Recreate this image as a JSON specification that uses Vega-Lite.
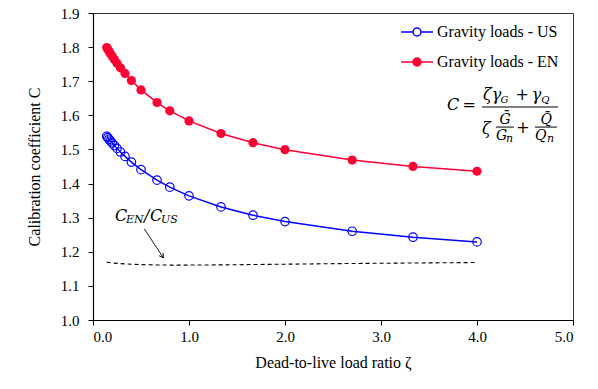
{
  "$schema": "https://vega.github.io/schema/vega-lite/v6.json",
  "width": 480,
  "height": 307,
  "autosize": "none",
  "padding": {"left": 93, "top": 13, "right": 25, "bottom": 69},
  "background": "white",
  "data": {"values": [{}]},
  "config": {
    "view": {"stroke": "#333333", "strokeWidth": 1},
    "axis": {
      "domainColor": "black", "domainWidth": 1.2, "tickColor": "black", "tickWidth": 1, "tickSize": 5,
      "labelColor": "black", "titleColor": "black", "labelFont": "Liberation Serif", "titleFont": "Liberation Serif",
      "labelFontSize": 15, "titleFontSize": 16, "titleFontWeight": "normal", "grid": false, "labelOverlap": false
    },
    "axisY": {"labelOverlap": false},
    "axisQuantitative": {"labelOverlap": false}
  },
  "datasets": {
    "curves": [
      {"zeta": 0.1429, "series": "Gravity loads - US", "C": 1.5385},
      {"zeta": 0.1538, "series": "Gravity loads - US", "C": 1.5345},
      {"zeta": 0.1667, "series": "Gravity loads - US", "C": 1.5300},
      {"zeta": 0.1818, "series": "Gravity loads - US", "C": 1.5248},
      {"zeta": 0.2, "series": "Gravity loads - US", "C": 1.5188},
      {"zeta": 0.2222, "series": "Gravity loads - US", "C": 1.5116},
      {"zeta": 0.25, "series": "Gravity loads - US", "C": 1.5030},
      {"zeta": 0.2857, "series": "Gravity loads - US", "C": 1.4926},
      {"zeta": 0.3333, "series": "Gravity loads - US", "C": 1.4796},
      {"zeta": 0.4, "series": "Gravity loads - US", "C": 1.4629},
      {"zeta": 0.5, "series": "Gravity loads - US", "C": 1.4407},
      {"zeta": 0.6667, "series": "Gravity loads - US", "C": 1.4099},
      {"zeta": 0.8, "series": "Gravity loads - US", "C": 1.3894},
      {"zeta": 1.0, "series": "Gravity loads - US", "C": 1.3640},
      {"zeta": 1.3333, "series": "Gravity loads - US", "C": 1.3315},
      {"zeta": 1.6667, "series": "Gravity loads - US", "C": 1.3072},
      {"zeta": 2.0, "series": "Gravity loads - US", "C": 1.2885},
      {"zeta": 2.7, "series": "Gravity loads - US", "C": 1.2602},
      {"zeta": 3.3333, "series": "Gravity loads - US", "C": 1.2427},
      {"zeta": 4.0, "series": "Gravity loads - US", "C": 1.2290},
      {"zeta": 0.1429, "series": "Gravity loads - EN", "C": 1.7988},
      {"zeta": 0.1538, "series": "Gravity loads - EN", "C": 1.7936},
      {"zeta": 0.1667, "series": "Gravity loads - EN", "C": 1.7876},
      {"zeta": 0.1818, "series": "Gravity loads - EN", "C": 1.7808},
      {"zeta": 0.2, "series": "Gravity loads - EN", "C": 1.7729},
      {"zeta": 0.2222, "series": "Gravity loads - EN", "C": 1.7637},
      {"zeta": 0.25, "series": "Gravity loads - EN", "C": 1.7526},
      {"zeta": 0.2857, "series": "Gravity loads - EN", "C": 1.7393},
      {"zeta": 0.3333, "series": "Gravity loads - EN", "C": 1.7228},
      {"zeta": 0.4, "series": "Gravity loads - EN", "C": 1.7019},
      {"zeta": 0.5, "series": "Gravity loads - EN", "C": 1.6746},
      {"zeta": 0.6667, "series": "Gravity loads - EN", "C": 1.6373},
      {"zeta": 0.8, "series": "Gravity loads - EN", "C": 1.6131},
      {"zeta": 1.0, "series": "Gravity loads - EN", "C": 1.5836},
      {"zeta": 1.3333, "series": "Gravity loads - EN", "C": 1.5467},
      {"zeta": 1.6667, "series": "Gravity loads - EN", "C": 1.5198},
      {"zeta": 2.0, "series": "Gravity loads - EN", "C": 1.4993},
      {"zeta": 2.7, "series": "Gravity loads - EN", "C": 1.4690},
      {"zeta": 3.3333, "series": "Gravity loads - EN", "C": 1.4503},
      {"zeta": 4.0, "series": "Gravity loads - EN", "C": 1.4361}
    ],
    "ratio": [
      {"zeta": 0.1429, "R": 1.1692},
      {"zeta": 0.1538, "R": 1.1689},
      {"zeta": 0.1667, "R": 1.1684},
      {"zeta": 0.1818, "R": 1.1679},
      {"zeta": 0.2, "R": 1.1673},
      {"zeta": 0.2222, "R": 1.1668},
      {"zeta": 0.25, "R": 1.1661},
      {"zeta": 0.2857, "R": 1.1653},
      {"zeta": 0.3333, "R": 1.1644},
      {"zeta": 0.4, "R": 1.1634},
      {"zeta": 0.5, "R": 1.1624},
      {"zeta": 0.6667, "R": 1.1613},
      {"zeta": 0.8, "R": 1.1610},
      {"zeta": 1.0, "R": 1.1610},
      {"zeta": 1.3333, "R": 1.1616},
      {"zeta": 1.6667, "R": 1.1626},
      {"zeta": 2.0, "R": 1.1636},
      {"zeta": 2.7, "R": 1.1657},
      {"zeta": 3.3333, "R": 1.1671},
      {"zeta": 4.0, "R": 1.1685}
    ]
  },
  "layer": [
    {
      "data": {"name": "ratio"},
      "mark": {"type": "line", "color": "black", "strokeWidth": 1.1, "strokeDash": [4, 3]},
      "encoding": {
        "x": {"field": "zeta", "type": "quantitative", "scale": {"domain": [0, 5], "nice": false},
              "axis": {"values": [0, 1, 2, 3, 4, 5], "format": ".1f", "title": "Dead-to-live load ratio ζ", "labelPadding": 4, "titlePadding": 10}},
        "y": {"field": "R", "type": "quantitative", "scale": {"domain": [1, 1.9], "nice": false, "zero": false},
              "axis": {"tickCount": 9, "format": ".1f", "title": "Calibration coefficient C", "labelPadding": 9, "titlePadding": 18, "labelOverlap": false}}
      }
    },
    {
      "data": {"name": "curves"},
      "mark": {"type": "line", "strokeWidth": 1.5},
      "encoding": {
        "x": {"field": "zeta", "type": "quantitative"},
        "y": {"field": "C", "type": "quantitative"},
        "color": {"field": "series", "type": "nominal",
          "scale": {"domain": ["Gravity loads - US", "Gravity loads - EN"], "range": ["#0000ff", "#ff0033"]},
          "legend": {
            "orient": "none", "legendX": 315, "legendY": 10, "title": null, "padding": 0,
            "symbolType": "M-2,0L-0.5,0M0.5,0L2,0M0.5,0A0.5,0.5,0,1,1,-0.5,0A0.5,0.5,0,1,1,0.5,0",
            "symbolSize": 256, "symbolStrokeWidth": 1.5, "labelOffset": 11,
            "labelFont": "Liberation Serif", "labelFontSize": 16, "labelColor": "black", "rowPadding": 13,
            "labelLimit": 300,
            "encode": {"symbols": {"update": {"fill": {"signal": "datum.value === 'Gravity loads - EN' ? '#ff0033' : '#ffffff'"}, "fillOpacity": {"value": 1}}}}
          }}
      }
    },
    {
      "data": {"name": "curves"},
      "transform": [{"filter": "datum.series === 'Gravity loads - US'"}],
      "mark": {"type": "point", "shape": "circle", "filled": false, "size": 72, "color": "#0000ff", "strokeWidth": 1.2, "opacity": 1},
      "encoding": {"x": {"field": "zeta", "type": "quantitative"}, "y": {"field": "C", "type": "quantitative"}}
    },
    {
      "data": {"name": "curves"},
      "transform": [{"filter": "datum.series === 'Gravity loads - EN'"}],
      "mark": {"type": "point", "shape": "circle", "filled": true, "size": 85, "color": "#ff0033", "opacity": 1},
      "encoding": {"x": {"field": "zeta", "type": "quantitative"}, "y": {"field": "C", "type": "quantitative"}}
    },
    {"mark": {"type": "rule", "color": "black", "strokeWidth": 0.9}, "encoding": {"x": {"datum": 0.534}, "y": {"datum": 1.2676}, "x2": {"datum": 0.7323}, "y2": {"datum": 1.1824}}},
    {"mark": {"type": "point", "shape": "M-0.6,-1L0,0L0.6,-1", "size": 64, "filled": false, "color": "black", "strokeWidth": 0.9, "angle": 327, "opacity": 1}, "encoding": {"x": {"datum": 0.7323}, "y": {"datum": 1.1824}}},
    {"mark": {"type": "text", "text": "C", "font": "DejaVu Serif", "fontStyle": "italic", "fontSize": 16, "align": "left", "baseline": "alphabetic"}, "encoding": {"x": {"datum": 0.229}, "y": {"datum": 1.289}}},
    {"mark": {"type": "text", "text": "EN", "font": "DejaVu Serif", "fontStyle": "italic", "fontSize": 11, "align": "left", "baseline": "alphabetic"}, "encoding": {"x": {"datum": 0.344}, "y": {"datum": 1.2832}}},
    {"mark": {"type": "text", "text": "/", "font": "DejaVu Serif", "fontStyle": "italic", "fontSize": 16, "align": "left", "baseline": "alphabetic"}, "encoding": {"x": {"datum": 0.531}, "y": {"datum": 1.289}}},
    {"mark": {"type": "text", "text": "C", "font": "DejaVu Serif", "fontStyle": "italic", "fontSize": 16, "align": "left", "baseline": "alphabetic"}, "encoding": {"x": {"datum": 0.594}, "y": {"datum": 1.289}}},
    {"mark": {"type": "text", "text": "US", "font": "DejaVu Serif", "fontStyle": "italic", "fontSize": 11, "align": "left", "baseline": "alphabetic"}, "encoding": {"x": {"datum": 0.708}, "y": {"datum": 1.2832}}},
    {"mark": {"type": "text", "text": "C", "font": "DejaVu Serif", "fontStyle": "italic", "fontSize": 16, "align": "left", "baseline": "alphabetic"}, "encoding": {"x": {"datum": 3.6875}, "y": {"datum": 1.6156}}},
    {"mark": {"type": "text", "text": "=", "font": "DejaVu Serif", "fontSize": 16, "align": "left", "baseline": "alphabetic"}, "encoding": {"x": {"datum": 3.85}, "y": {"datum": 1.6156}}},
    {"mark": {"type": "text", "text": "ζγ", "font": "DejaVu Serif", "fontStyle": "italic", "fontSize": 16, "align": "left", "baseline": "alphabetic"}, "encoding": {"x": {"datum": 4.0625}, "y": {"datum": 1.645}}},
    {"mark": {"type": "text", "text": "G", "font": "DejaVu Serif", "fontStyle": "italic", "fontSize": 10, "align": "left", "baseline": "alphabetic"}, "encoding": {"x": {"datum": 4.245}, "y": {"datum": 1.6362}}},
    {"mark": {"type": "text", "text": "+", "font": "DejaVu Serif", "fontSize": 16, "align": "left", "baseline": "alphabetic"}, "encoding": {"x": {"datum": 4.40}, "y": {"datum": 1.645}}},
    {"mark": {"type": "text", "text": "γ", "font": "DejaVu Serif", "fontStyle": "italic", "fontSize": 16, "align": "left", "baseline": "alphabetic"}, "encoding": {"x": {"datum": 4.57}, "y": {"datum": 1.645}}},
    {"mark": {"type": "text", "text": "Q", "font": "DejaVu Serif", "fontStyle": "italic", "fontSize": 10, "align": "left", "baseline": "alphabetic"}, "encoding": {"x": {"datum": 4.668}, "y": {"datum": 1.6362}}},
    {"mark": {"type": "rule", "color": "black", "strokeWidth": 1}, "encoding": {"x": {"datum": 4.052}, "x2": {"datum": 4.844}, "y": {"datum": 1.6244}}},
    {"mark": {"type": "text", "text": "ζ", "font": "DejaVu Serif", "fontStyle": "italic", "fontSize": 16, "align": "left", "baseline": "alphabetic"}, "encoding": {"x": {"datum": 4.052}, "y": {"datum": 1.545}}},
    {"mark": {"type": "text", "text": "Ḡ", "font": "DejaVu Serif", "fontStyle": "italic", "fontSize": 14, "align": "center", "baseline": "alphabetic"}, "encoding": {"x": {"datum": 4.292}, "y": {"datum": 1.5744}}},
    {"mark": {"type": "rule", "color": "black", "strokeWidth": 1}, "encoding": {"x": {"datum": 4.198}, "x2": {"datum": 4.385}, "y": {"datum": 1.5656}}},
    {"mark": {"type": "text", "text": "G", "font": "DejaVu Serif", "fontStyle": "italic", "fontSize": 14, "align": "left", "baseline": "alphabetic"}, "encoding": {"x": {"datum": 4.198}, "y": {"datum": 1.5274}}},
    {"mark": {"type": "text", "text": "n", "font": "DejaVu Serif", "fontStyle": "italic", "fontSize": 11, "align": "left", "baseline": "alphabetic"}, "encoding": {"x": {"datum": 4.302}, "y": {"datum": 1.5215}}},
    {"mark": {"type": "text", "text": "+", "font": "DejaVu Serif", "fontSize": 16, "align": "left", "baseline": "alphabetic"}, "encoding": {"x": {"datum": 4.41}, "y": {"datum": 1.548}}},
    {"mark": {"type": "text", "text": "Q̄", "font": "DejaVu Serif", "fontStyle": "italic", "fontSize": 14, "align": "center", "baseline": "alphabetic"}, "encoding": {"x": {"datum": 4.72}, "y": {"datum": 1.5744}}},
    {"mark": {"type": "rule", "color": "black", "strokeWidth": 1}, "encoding": {"x": {"datum": 4.604}, "x2": {"datum": 4.833}, "y": {"datum": 1.5656}}},
    {"mark": {"type": "text", "text": "Q", "font": "DejaVu Serif", "fontStyle": "italic", "fontSize": 14, "align": "left", "baseline": "alphabetic"}, "encoding": {"x": {"datum": 4.604}, "y": {"datum": 1.5274}}},
    {"mark": {"type": "text", "text": "n", "font": "DejaVu Serif", "fontStyle": "italic", "fontSize": 11, "align": "left", "baseline": "alphabetic"}, "encoding": {"x": {"datum": 4.729}, "y": {"datum": 1.5215}}}
  ]
}
